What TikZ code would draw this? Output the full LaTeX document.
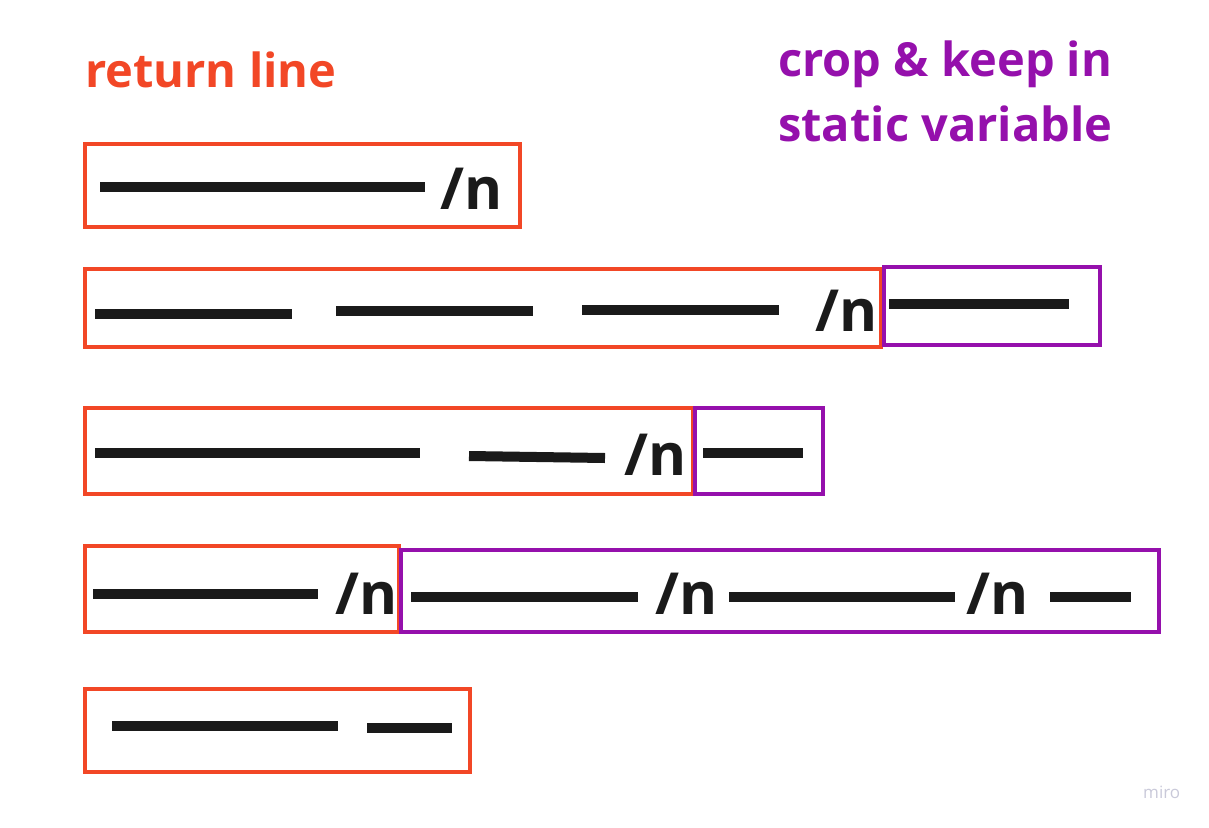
\documentclass[tikz,border=0pt]{standalone}
\usepackage{fontspec}
\setmainfont{Open Sans}
\definecolor{retred}{HTML}{F24726}
\definecolor{keeppurple}{HTML}{9510AC}
\definecolor{inkblack}{HTML}{1A1A1A}
\definecolor{mirogray}{HTML}{C9C9D9}

\begin{document}
\begin{tikzpicture}[x=1pt, y=-1pt]
   \tikzstyle{retbox}=[draw=retred, line width=3.2pt]
   \tikzstyle{keepbox}=[draw=keeppurple, line width=3.2pt]
   \tikzstyle{seg}=[draw=inkblack, line width=10pt]
   \tikzstyle{newline}=[anchor=base west, inner sep=0pt, text=inkblack, font=\bfseries\fontsize{58}{60}\selectfont]
   \tikzstyle{title}=[anchor=base west, inner sep=0pt, font=\bfseries\fontsize{47}{49}\selectfont]

\useasboundingbox (0,0) rectangle (1209,827);

% headings
\node[title, text=retred] (ret) at (85,87) {return line};
\node[title, text=keeppurple] (crop) at (778,76) {crop \& keep in};
\node[title, text=keeppurple] (static) at (778,141) {static variable};

% row 1
\draw[retbox] (85,144) rectangle (520,227);
\draw[seg] (100,187) -- (425,187);
\node[newline] (nl1) at (440,209) {/n};

% row 2
\draw[retbox] (85,269) rectangle (881,347);
\draw[keepbox] (884,267) rectangle (1100,345);
\draw[seg] (95,314) -- (292,314);
\draw[seg] (336,311) -- (533,311);
\draw[seg] (582,310) -- (779,310);
\node[newline] (nl2) at (815,331) {/n};
\draw[seg] (889,304) -- (1069,304);

% row 3
\draw[retbox] (85,408) rectangle (693,494);
\draw[keepbox] (695,408) rectangle (823,494);
\draw[seg] (95,453) -- (420,453);
\draw[seg] (469,456) -- (605,458);
\node[newline] (nl3) at (624,475) {/n};
\draw[seg] (703,453) -- (803,453);

% row 4
\draw[retbox] (85,546) rectangle (399,632);
\draw[keepbox] (401,550) rectangle (1159,632);
\draw[seg] (93,594) -- (318,594);
\node[newline] (nl4) at (335,614) {/n};
\draw[seg] (411,597) -- (638,597);
\node[newline] (nl5) at (655,614) {/n};
\draw[seg] (729,597) -- (955,597);
\node[newline] (nl6) at (966,614) {/n};
\draw[seg] (1050,597) -- (1131,597);

% row 5
\draw[retbox] (85,689) rectangle (470,772);
\draw[seg] (112,726) -- (338,726);
\draw[seg] (367,728) -- (452,728);

\node[anchor=base west, inner sep=0pt, text=mirogray, font=\fontsize{17}{18}\selectfont] (miro) at (1143,798) {miro};

\end{tikzpicture}
\end{document}
